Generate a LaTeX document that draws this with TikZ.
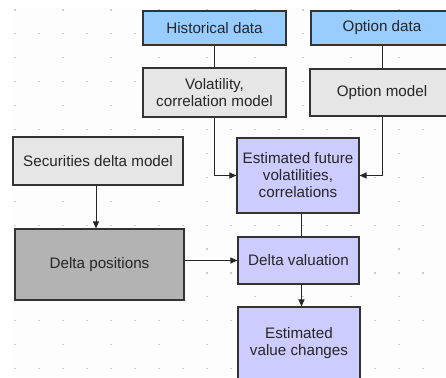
\documentclass[tikz,border=0pt]{standalone}
\usepackage{fontspec}
\setmainfont{Liberation Sans}
\usetikzlibrary{arrows.meta}
\definecolor{bluebox}{HTML}{99CCFF}
\definecolor{graybox}{HTML}{E6E6E6}
\definecolor{lavbox}{HTML}{CCCCFF}
\definecolor{darkbox}{HTML}{B3B3B3}
\definecolor{edge}{HTML}{333333}
\tikzset{
  box/.style={draw=edge, line width=1.1pt, rectangle, inner sep=0pt, align=center,
    font=\fontsize{15.2}{17}\selectfont, text=black!85},
  conn/.style={draw=black!85, line width=1pt},
  arr/.style={conn, -{Triangle[length=7pt,width=6pt]}},
}
\begin{document}
\begin{tikzpicture}[x=1pt,y=-1pt]
\useasboundingbox (0,0) rectangle (446,377);
\clip (0,0) rectangle (446,377);
\fill[white] (0,0) rectangle (446,377);
\fill[black!0.8] (12,8) rectangle (446,377);
% grid dots
\foreach \r in {0,...,15} {
  \pgfmathsetmacro{\yy}{10+23.9*\r}
  \pgfmathtruncatemacro{\odd}{mod(\r,2)}
  \foreach \c in {0,...,18} {
    \pgfmathtruncatemacro{\codd}{mod(\c,2)}
    \pgfmathtruncatemacro{\show}{(\odd==1) || (\codd==0)}
    \ifnum\show=1
      \fill[black!20] ({15+24*\c-0.6},{\yy-0.6}) rectangle ++(1.2,1.2);
    \fi
  }
}
% boxes
\node[box, fill=bluebox, minimum width=143pt, minimum height=34pt] (hist) at (214.5,28) {Historical data};
\node[box, fill=bluebox, minimum width=142pt, minimum height=34pt] (optd) at (382,28) {Option data};
\node[box, fill=graybox, minimum width=143pt, minimum height=49pt] (vol) at (214.5,92.5) {Volatility,\\correlation model};
\node[box, fill=graybox, minimum width=144pt, minimum height=47pt] (optm) at (382,92.5) {Option model};
\node[box, fill=graybox, minimum width=170pt, minimum height=48pt] (sec) at (98,161) {Securities delta model};
\node[box, fill=lavbox, minimum width=122pt, minimum height=75pt] (est) at (298,175.5) {Estimated future\\volatilities,\\correlations};
\node[box, fill=darkbox, minimum width=169pt, minimum height=71pt] (dpos) at (99.5,264.5) {Delta positions};
\node[box, fill=lavbox, minimum width=121pt, minimum height=47pt] (dval) at (298.5,260.5) {Delta valuation};
\node[box, fill=lavbox, minimum width=122pt, minimum height=73pt] (evc) at (299,343.5) {Estimated\\value changes};
% connectors
\draw[conn] (hist) -- (vol);
\draw[conn] (optd) -- (optm);
\draw[arr] (vol.south) |- (est.west);
\draw[arr] (optm.south) |- (est.east);
\draw[arr] ([xshift=-2pt]sec.south) -- ([xshift=-2pt]sec.south |- dpos.north);
\draw[arr] (dval.west -| dpos.east) -- (dval.west);
\draw[conn] ([xshift=3pt]est.south) -- ([xshift=3pt]est.south |- dval.north);
\draw[arr] ([xshift=3pt]dval.south) -- ([xshift=3pt]dval.south |- evc.north);
\end{tikzpicture}
\end{document}
